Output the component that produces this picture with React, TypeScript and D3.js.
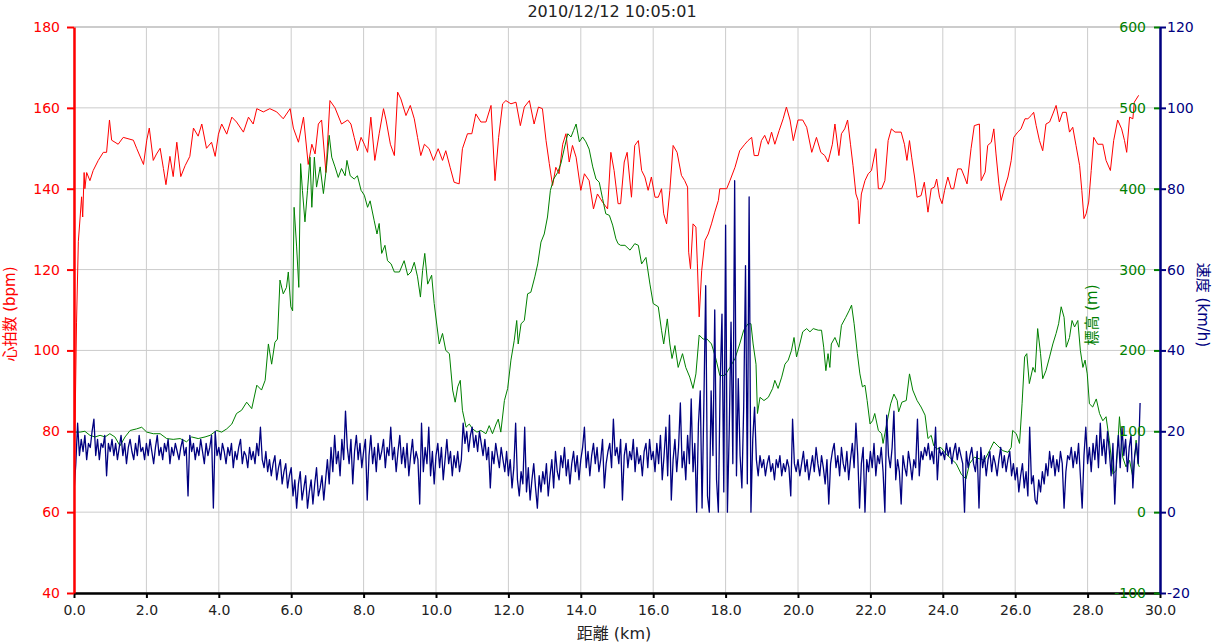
import React, { useEffect, useRef } from "react";
import * as d3 from "d3";

const title = "2010/12/12 10:05:01";
const xLabel = "距離 (km)";
const hrLabel = "心拍数 (bpm)";
const elevationLabel = "標高 (m)";
const speedLabel = "速度 (km/h)";

const xTicks = [0, 2, 4, 6, 8, 10, 12, 14, 16, 18, 20, 22, 24, 26, 28, 30];
const hrTicks = [40, 60, 80, 100, 120, 140, 160, 180];
const elevationTicks = [-100, 0, 100, 200, 300, 400, 500, 600];
const speedTicks = [-20, 0, 20, 40, 60, 80, 100, 120];

// [km, bpm]
const hrTrack: [number, number][] = [
  [0.0, 68], [0.03, 82], [0.07, 107], [0.12, 127], [0.17, 133], [0.21, 138], [0.24, 133], [0.28, 144],
  [0.3, 140], [0.35, 144], [0.44, 142], [0.53, 144.5], [0.67, 147], [0.81, 149], [0.9, 149], [0.98, 157],
  [1.04, 152], [1.22, 151], [1.36, 152.7], [1.64, 152], [1.73, 150], [1.92, 146], [2.01, 152], [2.08, 155],
  [2.19, 147], [2.28, 148.6], [2.38, 150], [2.47, 145], [2.54, 141], [2.65, 148], [2.74, 143], [2.84, 151.5],
  [2.95, 143], [3.07, 145.7], [3.2, 148], [3.3, 155], [3.43, 153], [3.53, 156], [3.66, 150], [3.8, 151.5],
  [3.9, 148], [3.99, 153.5], [4.08, 156], [4.22, 153.5], [4.36, 157.7], [4.49, 156.5], [4.68, 154], [4.82, 157.7],
  [4.95, 156], [5.05, 159.8], [5.23, 159], [5.41, 159.8], [5.6, 159], [5.78, 157.3], [5.97, 159.8], [6.06, 155],
  [6.2, 151.5], [6.34, 157.7], [6.47, 146], [6.57, 151], [6.66, 148.6], [6.75, 156], [6.84, 157], [6.96, 144],
  [7.07, 161.8], [7.21, 160], [7.39, 156], [7.56, 157], [7.65, 156], [7.74, 152.7], [7.83, 149.4], [7.93, 152.7],
  [8.02, 151], [8.11, 149], [8.2, 157.7], [8.31, 147], [8.43, 153.6], [8.55, 159.8], [8.62, 157], [8.74, 151],
  [8.85, 148.2], [8.94, 163.9], [9.03, 162.2], [9.17, 158.1], [9.29, 160.6], [9.4, 157.3], [9.49, 152.7], [9.58, 148.2],
  [9.68, 151], [9.81, 149.9], [9.93, 147], [10.06, 149.9], [10.18, 147], [10.27, 149.4], [10.39, 145.3], [10.5, 141.6],
  [10.64, 141.2], [10.73, 149.9], [10.87, 153.6], [10.99, 153.6], [11.1, 158.5], [11.24, 156.5], [11.38, 156.5], [11.52, 160.6],
  [11.63, 142], [11.73, 152.7], [11.84, 161], [11.93, 161.8], [12.07, 161], [12.21, 161.4], [12.33, 155.6], [12.44, 160.2],
  [12.58, 161.8], [12.71, 156], [12.83, 160.2], [12.94, 159.8], [13.04, 151.9], [13.13, 146.2], [13.22, 140.8], [13.31, 145.3],
  [13.4, 143.7], [13.5, 151], [13.59, 153.6], [13.68, 146.6], [13.77, 150.7], [13.87, 147.8], [14.0, 139.6], [14.1, 143.7],
  [14.23, 142], [14.35, 135], [14.46, 138.7], [14.6, 136.7], [14.74, 135], [14.83, 149], [14.92, 144.5], [15.03, 136.3],
  [15.1, 136.3], [15.2, 146.6], [15.28, 149], [15.4, 137.9], [15.49, 150.7], [15.59, 151.9], [15.68, 144.5], [15.77, 142.9],
  [15.86, 139.6], [15.95, 142.9], [16.05, 137.9], [16.14, 137.9], [16.23, 140], [16.29, 133.8], [16.37, 131.3], [16.46, 139.6],
  [16.55, 150.7], [16.66, 149], [16.78, 143.3], [16.87, 142], [16.95, 140.4], [16.98, 124.3], [17.03, 120.2], [17.1, 131.3],
  [17.18, 130.5], [17.22, 121.4], [17.27, 108.3], [17.34, 119.8], [17.43, 127.2], [17.52, 128.8], [17.61, 131.3], [17.7, 134.2],
  [17.8, 137.1], [17.84, 140], [18.03, 140], [18.12, 142], [18.26, 145.3], [18.39, 149.4], [18.53, 151], [18.62, 151.9],
  [18.72, 152.7], [18.79, 148.2], [18.9, 148.2], [18.99, 151.9], [19.08, 153.2], [19.18, 151], [19.27, 154], [19.36, 151],
  [19.48, 154.4], [19.59, 157.3], [19.68, 160.2], [19.78, 157], [19.87, 151.9], [20.0, 157], [20.13, 157], [20.24, 155.2],
  [20.38, 149], [20.51, 152.7], [20.63, 149], [20.74, 148.2], [20.83, 146.6], [20.95, 151], [21.02, 156], [21.13, 148.2],
  [21.2, 153.6], [21.29, 154.8], [21.37, 157], [21.45, 151], [21.52, 145.7], [21.6, 138.7], [21.66, 137.1], [21.69, 131.3],
  [21.75, 138.7], [21.85, 142], [21.94, 143.7], [22.03, 144.5], [22.15, 149.9], [22.22, 140], [22.31, 140], [22.4, 142],
  [22.49, 151.9], [22.58, 154.8], [22.68, 154], [22.85, 154], [22.94, 151], [23.01, 147], [23.08, 151.9], [23.14, 147.8],
  [23.22, 142.9], [23.29, 137.9], [23.4, 138.3], [23.49, 141.6], [23.59, 134.2], [23.68, 140], [23.77, 140.4], [23.83, 142.4],
  [23.91, 137.9], [23.98, 136.3], [24.05, 139.6], [24.14, 142.9], [24.23, 140], [24.3, 140], [24.41, 144.9], [24.51, 144.9],
  [24.6, 142.9], [24.67, 141.2], [24.78, 149.9], [24.87, 155.6], [25.01, 156], [25.06, 142], [25.17, 144.1], [25.24, 150.7],
  [25.34, 151.5], [25.41, 154.8], [25.47, 148.6], [25.55, 141.2], [25.61, 137.1], [25.7, 140], [25.8, 142.9], [25.89, 147],
  [25.96, 152.7], [26.07, 154], [26.16, 154.8], [26.27, 157.3], [26.35, 157.3], [26.44, 158.1], [26.51, 158.9], [26.58, 155.6],
  [26.67, 151.9], [26.76, 149.4], [26.85, 156], [26.95, 156.5], [27.04, 158.5], [27.13, 160.6], [27.22, 156.5], [27.31, 158.9],
  [27.41, 158.9], [27.5, 154], [27.59, 155.2], [27.68, 150.7], [27.78, 145.7], [27.84, 139.6], [27.9, 132.6], [27.96, 133.8],
  [28.03, 136.7], [28.1, 144.5], [28.17, 152.7], [28.28, 151], [28.42, 151], [28.51, 147], [28.63, 144.5], [28.72, 151.9],
  [28.83, 157], [28.94, 154.8], [29.02, 151.9], [29.08, 149], [29.16, 157.7], [29.25, 157.3], [29.29, 161.4], [29.41, 163.1],
];

// [km, m]
const elevationTrack: [number, number][] = [
  [0.0, 99], [0.17, 99], [0.3, 100], [0.44, 95], [0.58, 93], [0.72, 95], [0.86, 93], [0.99, 97],
  [1.13, 93], [1.27, 82], [1.41, 93], [1.55, 101], [1.73, 103], [1.87, 105], [2.01, 99], [2.19, 97],
  [2.38, 97], [2.56, 91], [2.74, 90], [2.93, 91], [3.11, 87], [3.25, 93], [3.43, 91], [3.62, 93],
  [3.76, 95], [3.94, 101], [4.08, 99], [4.22, 103], [4.36, 109], [4.49, 122], [4.63, 126], [4.77, 136],
  [4.91, 128], [5.05, 157], [5.18, 151], [5.28, 163], [5.37, 208], [5.46, 183], [5.55, 210], [5.62, 214],
  [5.69, 287], [5.78, 270], [5.87, 278], [5.92, 297], [5.99, 254], [6.04, 249], [6.08, 377], [6.15, 328],
  [6.21, 278], [6.26, 431], [6.31, 398], [6.38, 359], [6.45, 398], [6.52, 439], [6.57, 377], [6.64, 439],
  [6.7, 402], [6.8, 427], [6.89, 394], [6.98, 429], [7.05, 466], [7.12, 439], [7.21, 427], [7.3, 414],
  [7.39, 425], [7.49, 416], [7.54, 435], [7.63, 416], [7.74, 412], [7.83, 416], [7.93, 398], [8.02, 392],
  [8.11, 377], [8.18, 385], [8.29, 361], [8.37, 344], [8.43, 357], [8.5, 320], [8.59, 330], [8.66, 311],
  [8.76, 307], [8.85, 297], [8.99, 297], [9.12, 311], [9.22, 293], [9.31, 297], [9.4, 309], [9.49, 291],
  [9.57, 266], [9.63, 299], [9.69, 320], [9.77, 282], [9.88, 293], [9.95, 258], [10.03, 229], [10.09, 208],
  [10.18, 221], [10.27, 200], [10.37, 196], [10.46, 151], [10.53, 136], [10.6, 155], [10.67, 163], [10.73, 126],
  [10.83, 105], [10.92, 109], [11.01, 103], [11.13, 99], [11.24, 101], [11.38, 97], [11.47, 107], [11.56, 97],
  [11.66, 109], [11.72, 115], [11.79, 99], [11.89, 138], [11.98, 153], [12.07, 188], [12.16, 212], [12.23, 237],
  [12.27, 208], [12.35, 233], [12.44, 237], [12.53, 270], [12.62, 272], [12.73, 291], [12.81, 307], [12.9, 334],
  [12.99, 344], [13.08, 365], [13.16, 398], [13.25, 412], [13.36, 420], [13.45, 431], [13.54, 449], [13.64, 468],
  [13.73, 464], [13.8, 472], [13.87, 480], [13.96, 458], [14.05, 464], [14.14, 458], [14.23, 449], [14.33, 427],
  [14.42, 412], [14.51, 408], [14.6, 388], [14.69, 369], [14.79, 367], [14.88, 355], [14.97, 338], [15.03, 332],
  [15.1, 330], [15.22, 330], [15.36, 324], [15.49, 332], [15.59, 330], [15.68, 307], [15.8, 315], [15.91, 282],
  [16.0, 258], [16.14, 254], [16.23, 225], [16.29, 208], [16.39, 239], [16.46, 208], [16.52, 190], [16.6, 206],
  [16.69, 179], [16.81, 196], [16.9, 179], [17.01, 167], [17.1, 153], [17.18, 171], [17.27, 219], [17.38, 214],
  [17.49, 214], [17.61, 208], [17.73, 190], [17.84, 169], [17.98, 169], [18.12, 179], [18.26, 190], [18.39, 208],
  [18.5, 225], [18.62, 233], [18.7, 233], [18.76, 208], [18.84, 183], [18.88, 122], [18.95, 142], [19.06, 138],
  [19.18, 142], [19.3, 153], [19.36, 163], [19.45, 153], [19.55, 167], [19.64, 183], [19.73, 188], [19.82, 200],
  [19.89, 216], [19.96, 192], [20.05, 208], [20.13, 223], [20.24, 227], [20.33, 223], [20.42, 227], [20.56, 225],
  [20.65, 225], [20.71, 204], [20.77, 175], [20.83, 196], [20.88, 179], [20.92, 208], [21.02, 216], [21.13, 204],
  [21.2, 231], [21.32, 241], [21.41, 249], [21.48, 256], [21.55, 233], [21.64, 196], [21.71, 171], [21.78, 155],
  [21.85, 157], [21.91, 138], [21.99, 109], [22.06, 113], [22.12, 122], [22.22, 101], [22.31, 97], [22.35, 85],
  [22.45, 109], [22.56, 134], [22.65, 146], [22.74, 138], [22.78, 124], [22.87, 136], [22.99, 138], [23.08, 171],
  [23.17, 151], [23.29, 138], [23.4, 130], [23.51, 120], [23.59, 91], [23.68, 95], [23.75, 82], [23.84, 78],
  [23.95, 80], [24.09, 72], [24.23, 66], [24.37, 60], [24.51, 47], [24.64, 41], [24.74, 60], [24.87, 68],
  [25.01, 66], [25.15, 64], [25.29, 76], [25.41, 87], [25.52, 82], [25.66, 76], [25.8, 74], [25.89, 80],
  [25.93, 101], [26.03, 97], [26.12, 85], [26.19, 134], [26.26, 192], [26.32, 196], [26.39, 159], [26.49, 179],
  [26.55, 173], [26.62, 227], [26.7, 196], [26.76, 165], [26.85, 175], [26.95, 192], [27.04, 208], [27.13, 221],
  [27.2, 233], [27.27, 254], [27.35, 241], [27.41, 204], [27.5, 216], [27.57, 237], [27.64, 229], [27.73, 237],
  [27.8, 200], [27.87, 179], [27.93, 188], [27.99, 171], [28.05, 134], [28.14, 130], [28.24, 140], [28.33, 122],
  [28.42, 113], [28.51, 118], [28.6, 89], [28.7, 47], [28.79, 52], [28.88, 118], [28.97, 68], [29.06, 56],
  [29.16, 64], [29.25, 43], [29.34, 89], [29.39, 60], [29.43, 56],
];

// speed samples every 0.05 km, one row per km
const speedStepKm = 0.05;
const speedKmh = [
  5, 12, 22, 14, 18, 15, 19, 13, 17, 16, 20, 23, 14, 18, 13, 17, 16, 19, 9, 17,
  15, 18, 14, 17, 13, 16, 19, 14, 17, 12, 16, 18, 15, 13, 17, 14, 19, 15, 16, 13,
  17, 14, 18, 15, 12, 16, 19, 14, 16, 13, 17, 15, 18, 12, 16, 14, 17, 15, 13, 16,
  18, 14, 16, 4, 19, 15, 17, 13, 16, 14, 18, 15, 12, 17, 14, 16, 19, 1, 20, 14,
  16, 13, 17, 15, 12, 16, 14, 17, 11, 15, 13, 16, 18, 12, 15, 14, 11, 16, 13, 15,
  12, 17, 14, 21, 13, 11, 15, 10, 13, 9, 12, 14, 8, 11, 13, 7, 10, 12, 6, 9,
  11, 4, 8, 1, 7, 10, 3, 6, 9, 1, 5, 8, 2, 7, 11, 4, 6, 9, 3, 8,
  13, 7, 16, 10, 19, 12, 15, 9, 18, 13, 25, 16, 12, 18, 7, 15, 19, 13, 17, 11,
  15, 18, 3, 14, 19, 12, 16, 10, 17, 13, 15, 18, 11, 16, 14, 21, 13, 16, 10, 15,
  19, 12, 16, 11, 17, 9, 14, 18, 12, 15, 13, 2, 22, 10, 16, 12, 21, 9, 15, 7,
  14, 17, 11, 16, 8, 13, 18, 12, 15, 9, 14, 11, 15, 10, 13, 22, 17, 20, 15, 19,
  21, 16, 19, 15, 20, 17, 14, 18, 13, 16, 6, 15, 12, 17, 14, 11, 16, 13, 10, 15,
  9, 13, 6, 11, 22, 8, 4, 10, 7, 21, 5, 11, 3, 8, 12, 6, 1, 9, 5, 10,
  7, 12, 4, 9, 13, 6, 15, 10, 8, 14, 11, 16, 9, 13, 7, 12, 15, 10, 14, 8,
  13, 16, 21, 11, 15, 9, 14, 17, 12, 16, 10, 13, 18, 6, 12, 15, 17, 11, 23, 14,
  16, 12, 18, 3, 14, 17, 11, 15, 13, 18, 10, 16, 12, 14, 9, 15, 17, 11, 18, 13,
  15, 10, 17, 12, 19, 8, 14, 21, 9, 24, 3, 13, 18, 10, 16, 27, 11, 15, 8, 19,
  12, 28, 10, 17, 0, 22, 30, 1, 27, 56, 4, 0, 30, 14, 50, 8, 0, 32, 49, 5,
  71, 0, 20, 47, 12, 82, 9, 33, 14, 6, 26, 61, 7, 78, 0, 18, 26, 13, 9, 14,
  11, 13, 9, 12, 14, 10, 12, 8, 13, 11, 14, 9, 12, 10, 13, 11, 4, 23, 12, 10,
  13, 9, 12, 15, 10, 13, 8, 11, 14, 10, 16, 12, 9, 14, 11, 7, 13, 2, 12, 15,
  17, 11, 14, 9, 16, 12, 10, 15, 8, 13, 17, 11, 22, 14, 1, 12, 16, 0, 13, 10,
  15, 11, 17, 9, 14, 12, 16, 10, 0, 24, 14, 11, 16, 25, 8, 13, 10, 2, 14, 11,
  9, 15, 12, 8, 13, 11, 23, 9, 15, 13, 16, 14, 17, 13, 15, 12, 21, 8, 16, 14,
  15, 13, 17, 14, 16, 12, 15, 17, 13, 16, 14, 12, 0, 15, 11, 14, 16, 12, 10, 15,
  1, 16, 11, 14, 9, 13, 15, 10, 14, 12, 9, 13, 16, 11, 14, 10, 13, 15, 9, 12,
  8, 11, 5, 9, 12, 6, 10, 4, 21, 7, 9, 3, 2, 8, 5, 10, 7, 12, 9, 15,
  11, 14, 9, 13, 10, 15, 12, 1, 10, 14, 13, 16, 11, 15, 12, 17, 9, 1, 14, 21,
  12, 16, 10, 17, 13, 19, 11, 22, 14, 18, 12, 20, 15, 9, 17, 2, 13, 19, 11, 21,
  14, 18, 10, 16, 19, 6, 14, 17, 12, 27,
];

const width = 1217;
const height = 644;
const left = 74;
const right = 1160;
const top = 27;
const bottom = 593;

const RED = "#ff0000";
const GREEN = "#008000";
const NAVY = "#000080";
const GRID = "#cccccc";
const TEXT = "#222222";
const FONT = "'DejaVu Sans', Verdana, 'Noto Sans CJK JP', sans-serif";

// plain hyphen for negatives, like the original
const intLabel = (d: d3.NumberValue) => String(d);

const App: React.FC = () => {
  const svgRef = useRef<SVGSVGElement | null>(null);

  useEffect(() => {
    document.body.style.margin = "0";
    const svg = d3.select(svgRef.current);
    svg.selectAll("*").remove();

    const x = d3.scaleLinear().domain([0, 30]).range([left, right]);
    const yHr = d3.scaleLinear().domain([40, 180]).range([bottom, top]);
    const yEle = d3.scaleLinear().domain([-100, 600]).range([bottom, top]);
    const ySpd = d3.scaleLinear().domain([-20, 120]).range([bottom, top]);

    // grid
    const grid = svg.append("g");
    grid
      .selectAll("line.v")
      .data(xTicks)
      .join("line")
      .attr("x1", (d) => x(d))
      .attr("x2", (d) => x(d))
      .attr("y1", top)
      .attr("y2", bottom)
      .attr("stroke", GRID);
    grid
      .selectAll("line.h")
      .data(hrTicks)
      .join("line")
      .attr("x1", left)
      .attr("x2", right)
      .attr("y1", (d) => yHr(d))
      .attr("y2", (d) => yHr(d))
      .attr("stroke", GRID)
      .attr("stroke-width", (d) => (d === 180 ? 2 : 1));

    svg
      .append("clipPath")
      .attr("id", "plot-clip")
      .append("rect")
      .attr("x", left)
      .attr("y", top)
      .attr("width", right - left)
      .attr("height", bottom - top);

    const plot = svg.append("g").attr("clip-path", "url(#plot-clip)");

    const hrLine = d3
      .line<[number, number]>()
      .x((d) => x(d[0]))
      .y((d) => yHr(d[1]));
    const eleLine = d3
      .line<[number, number]>()
      .x((d) => x(d[0]))
      .y((d) => yEle(d[1]));
    const spdLine = d3
      .line<number>()
      .x((_, i) => x(i * speedStepKm))
      .y((d) => ySpd(d));

    plot
      .append("path")
      .datum(hrTrack)
      .attr("d", hrLine)
      .attr("fill", "none")
      .attr("stroke", RED)
      .attr("stroke-width", 1);

    plot
      .append("path")
      .datum(elevationTrack)
      .attr("d", eleLine)
      .attr("fill", "none")
      .attr("stroke", GREEN)
      .attr("stroke-width", 1);

    plot
      .append("path")
      .datum(speedKmh)
      .attr("d", spdLine)
      .attr("fill", "none")
      .attr("stroke", NAVY)
      .attr("stroke-width", 1.3)
      .attr("stroke-linejoin", "round");

    // bottom axis
    const xAxis = svg
      .append("g")
      .attr("transform", `translate(0,${bottom})`)
      .call(
        d3
          .axisBottom(x)
          .tickValues(xTicks)
          .tickSize(5)
          .tickSizeOuter(0)
          .tickPadding(7)
          .tickFormat(d3.format(".1f"))
      );
    xAxis.select(".domain").attr("stroke", "#000").attr("stroke-width", 2.5);
    xAxis.selectAll(".tick line").attr("stroke", "#000").attr("stroke-width", 2);
    xAxis
      .selectAll("text")
      .attr("fill", TEXT)
      .attr("font-size", 14)
      .attr("font-family", FONT);

    // heart rate axis
    const hrAxis = svg
      .append("g")
      .attr("transform", `translate(${left},0)`)
      .call(
        d3.axisLeft(yHr).tickValues(hrTicks).tickSize(7).tickSizeOuter(0).tickPadding(7).tickFormat(intLabel)
      );
    hrAxis.select(".domain").attr("stroke", RED).attr("stroke-width", 2.5);
    hrAxis.selectAll(".tick line").attr("stroke", RED).attr("stroke-width", 2);
    hrAxis
      .selectAll("text")
      .attr("fill", RED)
      .attr("font-size", 14)
      .attr("font-family", FONT);

    // elevation axis (ticks point inward on the right edge)
    const eleAxis = svg
      .append("g")
      .attr("transform", `translate(${right},0)`)
      .call(
        d3
          .axisLeft(yEle)
          .tickValues(elevationTicks)
          .tickSize(6)
          .tickSizeOuter(0)
          .tickPadding(8)
          .tickFormat(intLabel)
      );
    eleAxis.select(".domain").remove();
    eleAxis.selectAll(".tick line").attr("stroke", GREEN).attr("stroke-width", 2);
    eleAxis
      .selectAll("text")
      .attr("fill", GREEN)
      .attr("font-size", 14)
      .attr("font-family", FONT);

    // speed axis
    const spdAxis = svg
      .append("g")
      .attr("transform", `translate(${right},0)`)
      .call(
        d3
          .axisRight(ySpd)
          .tickValues(speedTicks)
          .tickSize(6)
          .tickSizeOuter(0)
          .tickPadding(1)
          .tickFormat(intLabel)
      );
    spdAxis.select(".domain").attr("stroke", NAVY).attr("stroke-width", 2.5);
    spdAxis.selectAll(".tick line").attr("stroke", NAVY).attr("stroke-width", 2);
    spdAxis
      .selectAll("text")
      .attr("fill", NAVY)
      .attr("font-size", 14)
      .attr("font-family", FONT);

    // titles
    svg
      .append("text")
      .attr("x", 612)
      .attr("y", 17)
      .attr("text-anchor", "middle")
      .attr("font-size", 16)
      .attr("font-family", FONT)
      .attr("fill", TEXT)
      .text(title);

    svg
      .append("text")
      .attr("x", 614)
      .attr("y", 639)
      .attr("text-anchor", "middle")
      .attr("font-size", 16)
      .attr("font-family", FONT)
      .attr("fill", TEXT)
      .text(xLabel);

    svg
      .append("text")
      .attr("transform", `translate(15,314) rotate(-90)`)
      .attr("text-anchor", "middle")
      .attr("font-size", 15)
      .attr("font-family", FONT)
      .attr("fill", RED)
      .text(hrLabel);

    svg
      .append("text")
      .attr("transform", `translate(1097,315) rotate(-90)`)
      .attr("text-anchor", "middle")
      .attr("font-size", 15)
      .attr("font-family", FONT)
      .attr("fill", GREEN)
      .text(elevationLabel);

    svg
      .append("text")
      .attr("transform", `translate(1198,305) rotate(90)`)
      .attr("text-anchor", "middle")
      .attr("font-size", 15)
      .attr("font-family", FONT)
      .attr("fill", NAVY)
      .text(speedLabel);
  }, []);

  return (
    <svg
      ref={svgRef}
      width={width}
      height={height}
      style={{ display: "block", background: "#fff" }}
    ></svg>
  );
};

export default App;
